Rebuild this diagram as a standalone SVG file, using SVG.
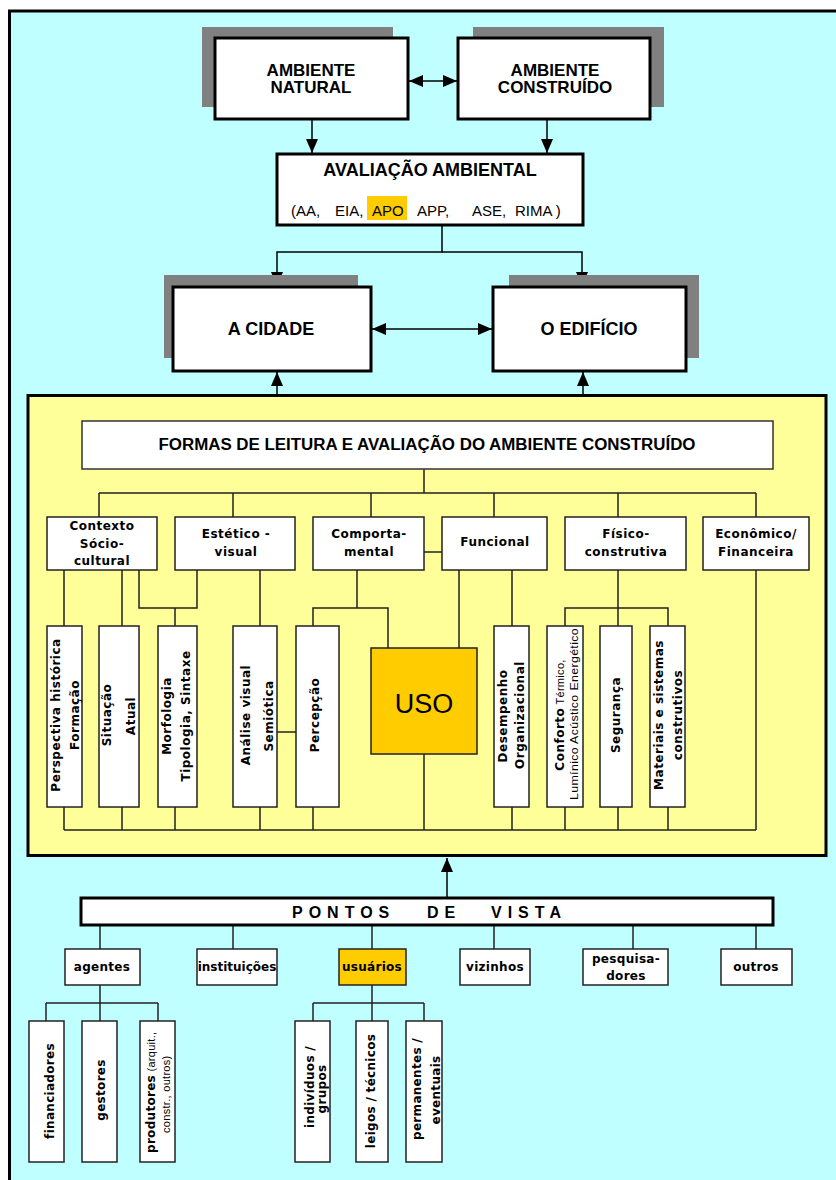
<svg xmlns="http://www.w3.org/2000/svg" width="836" height="1180" viewBox="0 0 836 1180">
<defs>
<marker id="ah" markerUnits="userSpaceOnUse" markerWidth="14" markerHeight="12" refX="14" refY="6" orient="auto-start-reverse"><path d="M0,0 L14,6 L0,12 z" fill="#000"/></marker>
<style>
.bx{fill:#fff;stroke:#000;stroke-width:3}
.sh{fill:#808080}
.cb{fill:#fff;stroke:#222;stroke-width:1.5}
.ar{fill:none;stroke:#000;stroke-width:1.5}
.ln{fill:none;stroke:#222;stroke-width:1.5}
.t1{font-family:"Liberation Sans",Arial,sans-serif;font-weight:bold;font-size:17px;text-anchor:middle}
.t2{font-family:"Liberation Sans",Arial,sans-serif;font-weight:bold;font-size:18px;text-anchor:middle}
.tn{font-family:"Liberation Sans",Arial,sans-serif;font-size:15px}
.pf{font-family:"DejaVu Sans",Verdana,sans-serif;font-weight:bold;font-size:12px;letter-spacing:0.5px;text-anchor:middle}
.pv{font-family:"DejaVu Sans",Verdana,sans-serif;font-weight:bold;font-size:12px;letter-spacing:0.3px;text-anchor:middle}
.nr{font-family:"Liberation Sans",Arial,sans-serif;font-weight:normal;font-size:11px;letter-spacing:0.3px}
</style>
</defs>
<rect x="0" y="0" width="836" height="1180" fill="#fff"/>
<rect x="9.5" y="11" width="840" height="1180" fill="#C0FFFF" stroke="#000" stroke-width="3"/>

<g id="yellow-area">
<rect x="28" y="395.5" width="798" height="460" fill="#FFFF99" stroke="#000" stroke-width="3"/>
</g>

<g id="connectors">
<path class="ar" d="M409,81 H457" marker-start="url(#ah)" marker-end="url(#ah)"/>
<path class="ar" d="M312,119 V153" marker-end="url(#ah)"/>
<path class="ar" d="M547,119 V153" marker-end="url(#ah)"/>
<path class="ar" d="M442,225 V252 H277 V286" marker-end="url(#ah)"/>
<path class="ar" d="M442,252 H582 V286" marker-end="url(#ah)"/>
<path class="ar" d="M372,329 H492" marker-start="url(#ah)" marker-end="url(#ah)"/>
<path class="ar" d="M277,394 V372" marker-end="url(#ah)"/>
<path class="ar" d="M583,394 V372" marker-end="url(#ah)"/>
<path class="ar" d="M447,897 V858" marker-end="url(#ah)"/>
<path class="ln" d="M424,469 V493 M99,493 H756 M99,493 V517 M233,493 V517 M371,493 V517 M494,493 V517 M618,493 V517 M756,493 V517"/>
<path class="ln" d="M424,552 H442"/>
<path class="ln" d="M64,570 V626 M122,570 V626 M139,570 V608 H197 V570 M175,608 V626 M260,570 V626"/>
<path class="ln" d="M357,570 V608 M313,626 V608 H388 V648 M459,570 V648 M512,570 V626"/>
<path class="ln" d="M618,570 V626 M565,626 V608 H668 V626 M756,570 V830"/>
<path class="ln" d="M64,830 H756 M64,807 V830 M122,807 V830 M175,807 V830 M260,807 V830 M313,807 V830 M424,754 V830 M512,807 V830 M565,807 V830 M618,807 V830 M668,807 V830"/>
<path class="ln" d="M277,732 H296"/>
<path class="ln" d="M100,925 V949 M233,925 V949 M372,925 V949 M494,925 V949 M633,925 V949 M756,925 V949"/>
<path class="ln" d="M100,985 V1021 M46,1003 H158 M46,1003 V1021 M158,1003 V1021"/>
<path class="ln" d="M372,985 V1021 M313,1003 H424 M313,1003 V1021 M424,1003 V1021"/>
</g>

<g id="ambiente-natural">
<rect class="sh" x="202" y="27" width="191" height="80"/>
<rect class="bx" x="215" y="38" width="193" height="81"/>
<text class="t1" x="311" y="76">AMBIENTE</text>
<text class="t1" x="311" y="93">NATURAL</text>
</g>
<g id="ambiente-construido">
<rect class="sh" x="473" y="27" width="191" height="80"/>
<rect class="bx" x="458" y="38" width="192" height="81"/>
<text class="t1" x="555" y="76">AMBIENTE</text>
<text class="t1" x="555" y="93">CONSTRUÍDO</text>
</g>
<g id="avaliacao-ambiental">
<rect class="bx" x="277" y="154" width="306" height="71"/>
<text class="t2" x="430" y="176">AVALIAÇÃO AMBIENTAL</text>
<rect x="367" y="196" width="40" height="24" fill="#FFCC00"/>
<text class="tn" x="291" y="216">(AA,</text>
<text class="tn" x="335" y="216">EIA,</text>
<text class="tn" x="372" y="216">APO</text>
<text class="tn" x="417" y="216">APP,</text>
<text class="tn" x="472" y="216">ASE,</text>
<text class="tn" x="515" y="216">RIMA )</text>
</g>
<g id="a-cidade">
<rect class="sh" x="164" y="275" width="194" height="83"/>
<rect class="bx" x="173" y="287" width="198" height="84"/>
<text class="t2" x="271" y="335">A CIDADE</text>
</g>
<g id="o-edificio">
<rect class="sh" x="509" y="275" width="190" height="83"/>
<rect class="bx" x="493" y="287" width="193" height="84"/>
<text class="t2" x="589" y="335">O EDIFÍCIO</text>
</g>

<g id="formas">
<rect x="82" y="421" width="691" height="48" fill="#fff" stroke="#333" stroke-width="1.5"/>
<text class="t1" x="427" y="450" style="font-size:16px" textLength="537" lengthAdjust="spacingAndGlyphs">FORMAS DE LEITURA E AVALIAÇÃO DO AMBIENTE CONSTRUÍDO</text>
</g>

<g id="contexto">
<rect class="cb" x="47" y="517" width="110" height="53"/>
<text class="pf" x="102" y="530">Contexto</text>
<text class="pf" x="102" y="548">Sócio-</text>
<text class="pf" x="102" y="565">cultural</text>
</g>
<g id="estetico">
<rect class="cb" x="175" y="517" width="120" height="53"/>
<text class="pf" x="236" y="538">Estético -</text>
<text class="pf" x="236" y="556">visual</text>
</g>
<g id="comportamental">
<rect class="cb" x="313" y="517" width="111" height="53"/>
<text class="pf" x="369" y="538">Comporta-</text>
<text class="pf" x="369" y="556">mental</text>
</g>
<g id="funcional">
<rect class="cb" x="442" y="517" width="105" height="53"/>
<text class="pf" x="495" y="546">Funcional</text>
</g>
<g id="fisico">
<rect class="cb" x="565" y="517" width="121" height="53"/>
<text class="pf" x="626" y="538">Físico-</text>
<text class="pf" x="626" y="556">construtiva</text>
</g>
<g id="economico">
<rect class="cb" x="703" y="517" width="106" height="53"/>
<text class="pf" x="756" y="538">Econômico/</text>
<text class="pf" x="756" y="556">Financeira</text>
</g>

<g id="perspectiva">
<rect class="cb" x="47" y="626" width="35" height="181"/>
<text class="pf" transform="translate(60,715) rotate(-90)">Perspectiva histórica</text>
<text class="pf" transform="translate(79,715) rotate(-90)">Formação</text>
</g>
<g id="situacao">
<rect class="cb" x="99" y="626" width="40" height="181"/>
<text class="pf" transform="translate(111,715) rotate(-90)">Situação</text>
<text class="pf" transform="translate(135,716) rotate(-90)">Atual</text>
</g>
<g id="morfologia">
<rect class="cb" x="158" y="626" width="39" height="181"/>
<text class="pf" transform="translate(171,716) rotate(-90)">Morfologia</text>
<text class="pf" transform="translate(190,716) rotate(-90)">Tipologia, Sintaxe</text>
</g>
<g id="analise">
<rect class="cb" x="233" y="626" width="44" height="181"/>
<text class="pf" transform="translate(250,715) rotate(-90)">Análise visual</text>
<text class="pf" transform="translate(273,716) rotate(-90)">Semiótica</text>
</g>
<g id="percepcao">
<rect class="cb" x="296" y="626" width="43" height="181"/>
<text class="pf" transform="translate(319,715) rotate(-90)">Percepção</text>
</g>
<g id="uso">
<rect x="371" y="648" width="106" height="106" fill="#FFCC00" stroke="#222" stroke-width="1.5"/>
<text x="424" y="713" font-family="Liberation Sans, Arial, sans-serif" font-size="27" text-anchor="middle">USO</text>
</g>
<g id="desempenho">
<rect class="cb" x="494" y="626" width="35" height="181"/>
<text class="pf" transform="translate(507,716) rotate(-90)">Desempenho</text>
<text class="pf" transform="translate(524,715) rotate(-90)">Organizacional</text>
</g>
<g id="conforto">
<rect class="cb" x="547" y="626" width="36" height="181"/>
<text class="pf" transform="translate(564,715) rotate(-90)">Conforto<tspan class="nr"> Térmico,</tspan></text>
<text class="nr" transform="translate(578,714) rotate(-90)" text-anchor="middle" textLength="172" lengthAdjust="spacingAndGlyphs">Lumínico Acústico Energético</text>
</g>
<g id="seguranca">
<rect class="cb" x="600" y="626" width="32" height="181"/>
<text class="pf" transform="translate(620,715) rotate(-90)">Segurança</text>
</g>
<g id="materiais">
<rect class="cb" x="650" y="626" width="35" height="181"/>
<text class="pf" transform="translate(663,715) rotate(-90)">Materiais e sistemas</text>
<text class="pf" transform="translate(682,715) rotate(-90)">construtivos</text>
</g>

<g id="pontos-de-vista">
<rect class="bx" x="81" y="898" width="692" height="27"/>
<text x="292" y="918" font-family="Liberation Sans, Arial, sans-serif" font-weight="bold" font-size="16" letter-spacing="6">PONTOS</text>
<text x="427" y="918" font-family="Liberation Sans, Arial, sans-serif" font-weight="bold" font-size="16" letter-spacing="6">DE</text>
<text x="491" y="918" font-family="Liberation Sans, Arial, sans-serif" font-weight="bold" font-size="16" letter-spacing="6">VISTA</text>
</g>
<g id="agentes">
<rect class="cb" x="65" y="949" width="75" height="36"/>
<text class="pv" x="102" y="971">agentes</text>
</g>
<g id="instituicoes">
<rect class="cb" x="197" y="949" width="80" height="36"/>
<text class="pv" x="237" y="971" style="letter-spacing:0">instituições</text>
</g>
<g id="usuarios">
<rect x="339" y="949" width="67" height="36" fill="#FFCC00" stroke="#222" stroke-width="1.5"/>
<text class="pv" x="372" y="971">usuários</text>
</g>
<g id="vizinhos">
<rect class="cb" x="460" y="949" width="70" height="36"/>
<text class="pv" x="495" y="971">vizinhos</text>
</g>
<g id="pesquisadores">
<rect class="cb" x="583" y="949" width="85" height="36"/>
<text class="pv" x="626" y="963">pesquisa-</text>
<text class="pv" x="626" y="980">dores</text>
</g>
<g id="outros">
<rect class="cb" x="721" y="949" width="71" height="36"/>
<text class="pv" x="756" y="971">outros</text>
</g>

<g id="financiadores">
<rect class="cb" x="29" y="1021" width="35" height="141"/>
<text class="pv" transform="translate(54,1091) rotate(-90)">financiadores</text>
</g>
<g id="gestores">
<rect class="cb" x="82" y="1021" width="35" height="141"/>
<text class="pv" transform="translate(105,1090) rotate(-90)">gestores</text>
</g>
<g id="produtores">
<rect class="cb" x="140" y="1021" width="35" height="141"/>
<text class="pv" style="text-anchor:start" transform="translate(155,1153) rotate(-90)">produtores<tspan class="nr"> (arquit.,</tspan></text>
<text class="nr" transform="translate(170,1133) rotate(-90)">constr., outros)</text>
</g>
<g id="individuos">
<rect class="cb" x="295" y="1021" width="35" height="141"/>
<text class="pv" transform="translate(314,1087) rotate(-90)">indivíduos /</text>
<text class="pv" transform="translate(326,1089) rotate(-90)">grupos</text>
</g>
<g id="leigos">
<rect class="cb" x="356" y="1021" width="32" height="141"/>
<text class="pv" transform="translate(375,1091) rotate(-90)">leigos / técnicos</text>
</g>
<g id="permanentes">
<rect class="cb" x="406" y="1021" width="36" height="141"/>
<text class="pv" transform="translate(421,1089) rotate(-90)">permanentes /</text>
<text class="pv" transform="translate(440,1090) rotate(-90)">eventuais</text>
</g>
</svg>
